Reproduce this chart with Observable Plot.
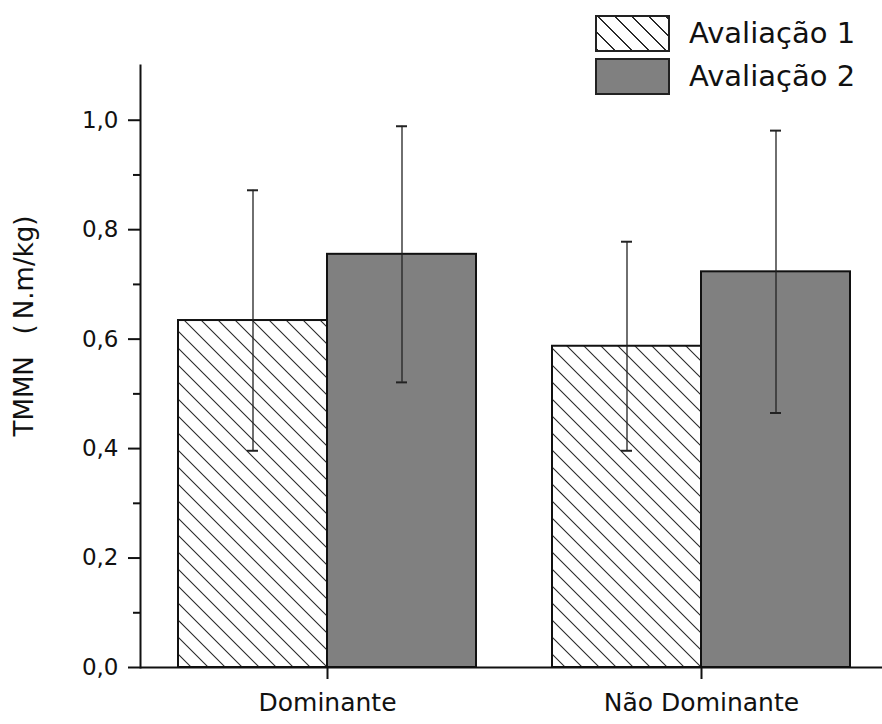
<!DOCTYPE html>
<html><head><meta charset="utf-8">
<script src="https://cdn.jsdelivr.net/npm/d3@7"></script>
<script src="https://cdn.jsdelivr.net/npm/@observablehq/plot@0.6"></script>
<style>
body{margin:0;background:#fff;}
#wrap{position:relative;width:882px;height:724px;font-family:"DejaVu Sans",sans-serif;color:#111;}
#legend{position:absolute;left:595px;top:15px;}
#legend .row{display:flex;align-items:center;height:37px;margin-bottom:6px;}
#legend .sw{box-sizing:border-box;width:75px;height:37px;border:2px solid #222;}
#legend .lab{margin-left:19px;font-size:29px;line-height:1;white-space:nowrap;}
#ytitle{position:absolute;left:24px;top:326px;transform:translate(-50%,-50%) rotate(-90deg);font-size:26px;line-height:1;white-space:nowrap;}
</style></head><body><div id="wrap"></div>
<script>
const categories = ["Dominante", "Não Dominante"];
const series = ["Avaliação 1", "Avaliação 2"];
const mean1 = [0.634, 0.587];
const mean2 = [0.755, 0.723];
const sd1 = [0.238, 0.191];
const sd2 = [0.234, 0.258];
const yTicks = [0, 0.2, 0.4, 0.6, 0.8, 1.0];
const yMinorTicks = [0.1, 0.3, 0.5, 0.7, 0.9];
const yTitle = "TMMN\u00a0\u00a0\u2009(\u2009N.m/kg)";
const seriesFill = ["url(#hatch)", "#808080"];

const rows = categories.flatMap((cat, i) => [
  {cat, series: series[0], mean: mean1[i], sd: sd1[i]},
  {cat, series: series[1], mean: mean2[i], sd: sd2[i]}
]);

const chart = Plot.plot({
  width: 882, height: 724,
  marginLeft: 140, marginRight: -6, marginTop: 65, marginBottom: 57,
  style: {fontFamily: "DejaVu Sans", background: "#fff", color: "#111", overflow: "visible"},
  facet: {data: rows, x: "cat"},
  fx: {domain: categories, padding: 0, label: null},
  x: {domain: series, paddingInner: 0, paddingOuter: 0.2467, axis: null},
  y: {domain: [0, 1.1], label: null},
  marks: [
    Plot.barY(rows, {filter: d => d.series === series[0], x: "series", y: "mean", fill: seriesFill[0], stroke: "#111", strokeWidth: 2}),
    Plot.barY(rows, {filter: d => d.series === series[1], x: "series", y: "mean", fill: seriesFill[1], stroke: "#111", strokeWidth: 2}),
    Plot.ruleX(rows, {x: "series", y1: d => d.mean - d.sd, y2: d => d.mean + d.sd, stroke: "#222", strokeWidth: 1.3}),
    Plot.tickY(rows, {x: "series", y: d => d.mean + d.sd, inset: 69, stroke: "#222", strokeWidth: 2}),
    Plot.tickY(rows, {x: "series", y: d => d.mean - d.sd, inset: 69, stroke: "#222", strokeWidth: 2}),
    Plot.ruleY([0], {stroke: "#111", strokeWidth: 2}),
    Plot.frame({anchor: "left", facetAnchor: "left", stroke: "#111", strokeWidth: 2}),
    Plot.axisY({ticks: yTicks, tickSize: 12, tickPadding: 10, fontSize: 23, tickFormat: d => d.toFixed(1).replace(".", ","), label: null, stroke: "#111", strokeWidth: 2, fill: "#111"}),
    Plot.axisY({ticks: yMinorTicks, tickSize: 7, fill: "none", label: null, stroke: "#111", strokeWidth: 2}),
    Plot.axisFx({anchor: "bottom", tickSize: 12, tickPadding: 14, fontSize: 25, label: null, stroke: "#111", strokeWidth: 2, fill: "#111"})
  ]
});

const svg = d3.select(chart);
const defs = svg.insert("defs", ":first-child");
const pat = defs.append("pattern").attr("id", "hatch").attr("patternUnits", "userSpaceOnUse").attr("width", 17).attr("height", 17);
pat.append("rect").attr("width", 17).attr("height", 17).attr("fill", "#fff");
pat.append("path").attr("d", "M0,0L17,17M-2,15L2,19M15,-2L19,2").attr("stroke", "#2a2a2a").attr("stroke-width", 1.1).attr("fill", "none");

const wrap = document.getElementById("wrap");
wrap.appendChild(chart);

const legend = d3.select(wrap).append("div").attr("id", "legend");
series.forEach((s, i) => {
  const row = legend.append("div").attr("class", "row");
  const sw = row.append("span").attr("class", "sw");
  if (i === 0) sw.style("background", "repeating-linear-gradient(45deg, #2a2a2a 0 1.1px, #fff 1.1px 12px)");
  else sw.style("background", seriesFill[1]);
  row.append("span").attr("class", "lab").text(s);
});
d3.select(wrap).append("div").attr("id", "ytitle").text(yTitle);
</script>
</body></html>
